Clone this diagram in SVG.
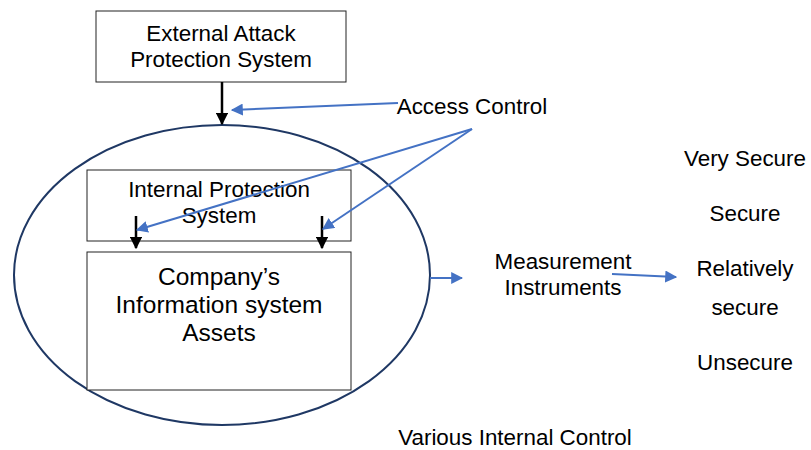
<svg xmlns="http://www.w3.org/2000/svg" width="811" height="450" viewBox="0 0 811 450">
<defs>
<style>
text{font-family:"Liberation Sans",Arial,sans-serif;fill:#000;text-anchor:middle;font-size:22.4px}
.big{font-size:24.5px}
.box{fill:#fff;stroke:#222;stroke-width:1}
.blk{stroke:#000;stroke-width:2.5;fill:none}
.blu{stroke:#4472C4;stroke-width:2;fill:none}
</style>
<marker id="ab" viewBox="0 0 10 10" refX="9" refY="5" markerWidth="5" markerHeight="5" orient="auto"><path d="M0,0L10,5L0,10z" fill="#000"/></marker>
<marker id="au" viewBox="0 0 10 10" refX="9" refY="5" markerWidth="6" markerHeight="6" orient="auto"><path d="M0,0L10,5L0,10z" fill="#4472C4"/></marker>
</defs>
<g id="ellipse"><ellipse cx="222" cy="275" rx="208" ry="150" fill="none" stroke="#1F3864" stroke-width="2"/></g>
<g id="external"><rect class="box" x="96" y="11" width="250" height="71"/><text x="221" y="41">External Attack</text><text x="221" y="67">Protection System</text></g>
<g id="internal"><rect class="box" x="87" y="170" width="264" height="71"/><text x="219" y="197">Internal Protection</text><text x="219" y="223">System</text></g>
<g id="assets"><rect class="box" x="87" y="252" width="264" height="138"/><text class="big" x="219" y="285">Company’s</text><text class="big" x="219" y="313">Information system</text><text class="big" x="219" y="341">Assets</text></g>
<g id="access"><text x="472" y="114">Access Control</text></g>
<g id="measure"><text x="563" y="269">Measurement</text><text x="563" y="295">Instruments</text></g>
<g id="levels"><text x="745" y="166">Very Secure</text><text x="745" y="221">Secure</text><text x="745" y="276">Relatively</text><text x="745" y="315">secure</text><text x="745" y="370">Unsecure</text></g>
<g id="various"><text x="515" y="445">Various Internal Control</text></g>
<g id="connectors">
<path class="blk" d="M222,82V124" marker-end="url(#ab)"/>
<path class="blk" d="M136,216V248" marker-end="url(#ab)"/>
<path class="blk" d="M322,216V248" marker-end="url(#ab)"/>
<path class="blu" d="M398,103L232,110" marker-end="url(#au)"/>
<path class="blu" d="M472,129L137,230" marker-end="url(#au)"/>
<path class="blu" d="M472,129L323,229" marker-end="url(#au)"/>
<path class="blu" d="M430,278H462" marker-end="url(#au)"/>
<path class="blu" d="M612,274L676,277" marker-end="url(#au)"/>
</g>
</svg>
